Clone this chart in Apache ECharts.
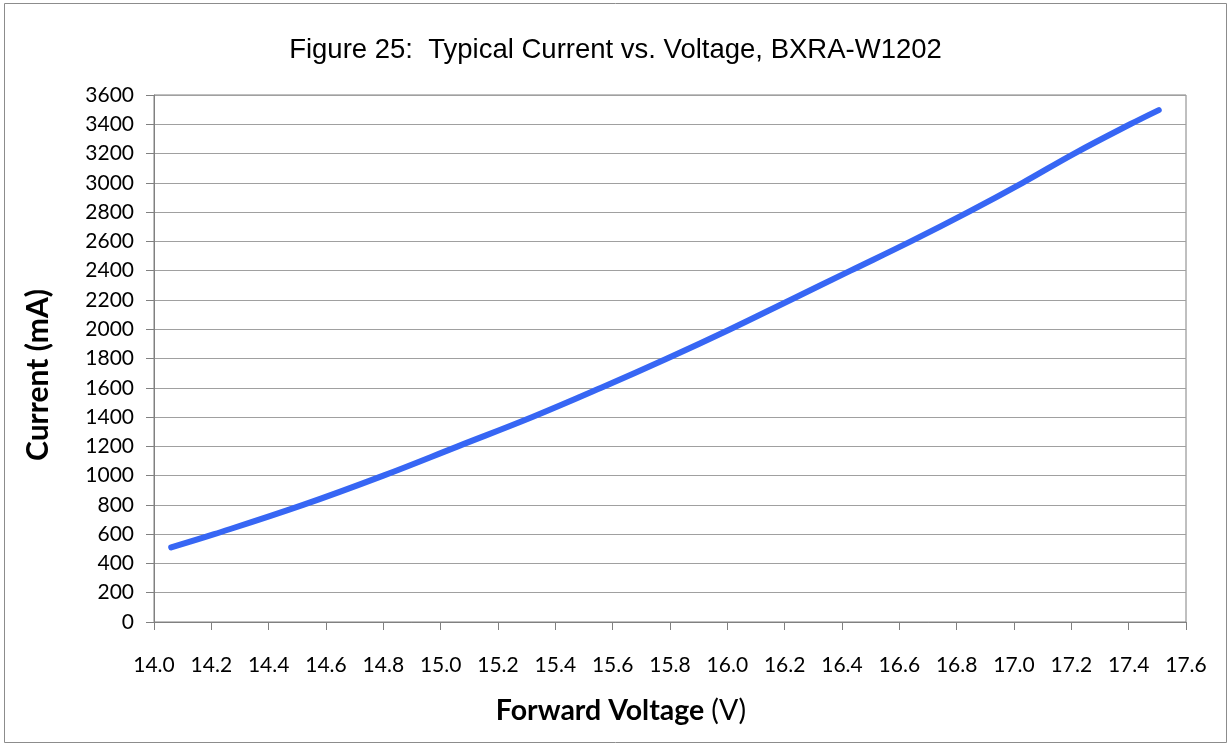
<!DOCTYPE html>
<html>
<head>
<meta charset="utf-8">
<script src="https://cdn.jsdelivr.net/npm/echarts@6/dist/echarts.min.js"></script>
<style>
html,body{margin:0;padding:0;background:#fff;}
#chart{width:1231px;height:746px;}
</style>
</head>
<body>
<div id="chart"></div>
<script>
const titleText = 'Figure 25:  Typical Current vs. Voltage, BXRA-W1202';
const xTitleBold = 'Forward Voltage';
const xTitleUnit = '(V)';
const yTitle = 'Current (mA)';
const voltage = [14.06, 14.21, 14.52, 14.80, 15.06, 15.32, 15.56, 15.79, 16.01, 16.22, 16.43, 16.64, 16.84, 17.03, 17.21, 17.405, 17.505];
const current = [510, 600, 800, 1000, 1200, 1400, 1600, 1800, 2000, 2200, 2400, 2600, 2800, 3000, 3200, 3400, 3497];
const xMin = 14.0, xMax = 17.6, xStep = 0.2;
const yMin = 0, yMax = 3600, yStep = 200;

const points = voltage.map((v, i) => [v, current[i]]);
const chart = echarts.init(document.getElementById('chart'), null, {renderer: 'canvas'});
const labelFont = 'Lato, "Open Sans", sans-serif';
chart.setOption({
  animation: false,
  backgroundColor: '#fff',
  title: {
    text: titleText,
    left: 'center',
    top: 31,
    textStyle: {fontFamily: '"Liberation Sans", Arial, sans-serif', fontSize: 27.5, fontWeight: 'normal', color: '#000'}
  },
  graphic: [{
    type: 'rect', shape: {x: 4.5, y: 3.5, width: 1222, height: 739},
    style: {fill: 'none', stroke: '#8c8c8c', lineWidth: 1}, silent: true
  }, {
    type: 'text', x: 621, y: 711,
    style: {
      text: '{b|' + xTitleBold + '}{r|' + xTitleUnit + '}',
      align: 'center', verticalAlign: 'middle',
      rich: {
        b: {fontFamily: labelFont, fontSize: 28.5, fontWeight: 'bold', fill: '#000'},
        r: {fontFamily: labelFont, fontSize: 28.5, fontWeight: 'normal', fill: '#000', padding: [0, 0, 0, 7]}
      }
    }, silent: true
  }, {
    type: 'text', x: 38, y: 375, rotation: Math.PI / 2,
    style: {
      text: yTitle, align: 'center', verticalAlign: 'middle',
      fontFamily: labelFont, fontSize: 30, fontWeight: 'bold', fill: '#000'
    }, silent: true
  }],
  grid: {left: 154, right: 45, top: 95, bottom: 124, show: true, borderColor: '#808080', borderWidth: 1, backgroundColor: 'transparent'},
  xAxis: {
    type: 'value', min: xMin, max: xMax, interval: xStep,
    axisLine: {show: true, onZero: false, lineStyle: {color: '#808080', width: 1}},
    axisTick: {show: true, inside: false, length: 8, lineStyle: {color: '#808080'}},
    axisLabel: {formatter: v => v.toFixed(1), fontFamily: labelFont, fontSize: 21, color: '#000', margin: 33},
    splitLine: {show: false}
  },
  yAxis: {
    type: 'value', min: yMin, max: yMax, interval: yStep,
    axisLine: {show: true, lineStyle: {color: '#808080', width: 1}},
    axisTick: {show: true, inside: false, length: 8, lineStyle: {color: '#808080'}},
    axisLabel: {formatter: v => String(v), fontFamily: labelFont, fontSize: 21, color: '#000', margin: 20},
    splitLine: {show: true, lineStyle: {color: '#a0a0a0', width: 1}}
  },
  series: [{
    type: 'line',
    data: points,
    smooth: 0.4,
    showSymbol: false,
    lineStyle: {color: '#3766f4', width: 6, cap: 'round'},
    itemStyle: {color: '#3766f4'}
  }]
});
</script>
</body>
</html>
